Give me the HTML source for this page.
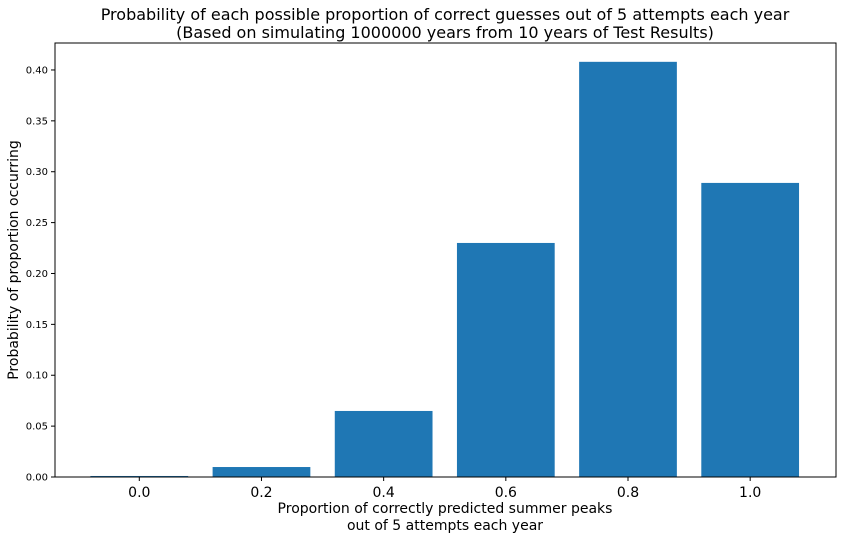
<!DOCTYPE html>
<html><head><meta charset="utf-8"><style>
body{margin:0;background:#fff;width:842px;height:539px;overflow:hidden}
svg text{font-family:"DejaVu Sans","Liberation Sans",sans-serif;fill:#000}
</style></head><body>
<svg id="chart" width="842" height="539" xmlns="http://www.w3.org/2000/svg">
<text x="445" y="20" font-size="16" text-anchor="middle">Probability of each possible proportion of correct guesses out of 5 attempts each year</text>
<text x="445" y="38" font-size="16" text-anchor="middle">(Based on simulating 1000000 years from 10 years of Test Results)</text>
<text x="445" y="513" font-size="14" text-anchor="middle">Proportion of correctly predicted summer peaks</text>
<text x="445" y="530" font-size="14" text-anchor="middle">out of 5 attempts each year</text>
<text transform="translate(18,260) rotate(-90)" font-size="14" text-anchor="middle">Probability of proportion occurring</text>
<g id="bars"></g><g id="xticks"></g><g id="yticks"></g>
<rect x="55" y="43" width="781" height="434" fill="none" stroke="#000" stroke-width="1"/>
</svg>
<script>
const categories=[0.0,0.2,0.4,0.6,0.8,1.0];
const values=[0.001,0.0098,0.0649,0.230,0.408,0.289];
const xTickLabels=["0.0","0.2","0.4","0.6","0.8","1.0"];
const yTicks=[0,0.05,0.10,0.15,0.20,0.25,0.30,0.35,0.40];
const yTickLabels=["0.00","0.05","0.10","0.15","0.20","0.25","0.30","0.35","0.40"];
const NS="http://www.w3.org/2000/svg";
const L=55,R=836,T=43,B=477,xmin=-0.138,xmax=1.1405,ymax=0.4265;
const xs=v=>L+(v-xmin)/(xmax-xmin)*(R-L);
const ys=v=>B-v/ymax*(B-T);
const bw=xs(0.16)-xs(0);
function mk(t,a,p){const e=document.createElementNS(NS,t);for(const k in a)e.setAttribute(k,a[k]);document.getElementById(p).appendChild(e);return e;}
categories.forEach((c,i)=>{
 const r=mk('rect',{x:xs(c)-bw/2,y:ys(values[i]),width:bw,height:B-ys(values[i]),fill:'#1f77b4'},'bars');
 
 
 const tk=mk('line',{x1:xs(c),x2:xs(c),y1:B,y2:B+4,stroke:'#000'},'xticks');
 
 
 const tx=mk('text',{x:xs(c),y:B+20,'font-size':14,'text-anchor':'middle'},'xticks');
 tx.textContent=xTickLabels[i];
 
 
});
yTicks.forEach((v,i)=>{
 const tk=mk('line',{x1:L-4,x2:L,y1:ys(v),y2:ys(v),stroke:'#000'},'yticks');
 
 
 const tx=mk('text',{x:L-7,y:ys(v)+3.5,'font-size':10,'text-anchor':'end'},'yticks');
 tx.textContent=yTickLabels[i];
 
 
});
</script>
</body></html>
